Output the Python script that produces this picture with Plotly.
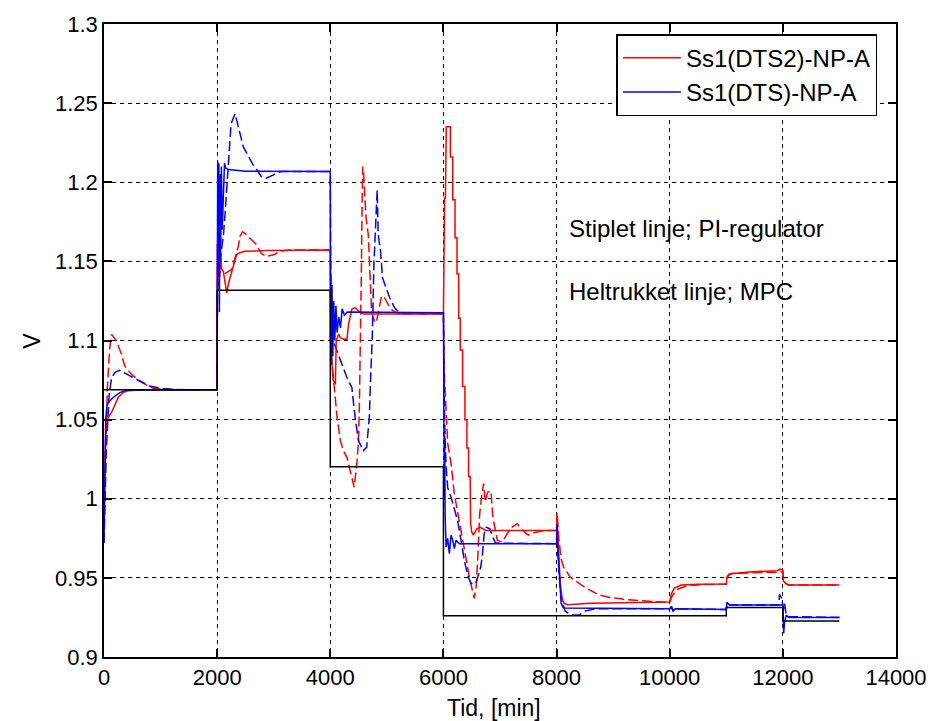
import plotly.graph_objects as go

# Reference set-point (black staircase)
setpoint_t = [0, 2000, 2000, 4000, 4000, 6000, 6000, 11000, 11000, 12000, 12000, 13000]
setpoint_v = [1.0688, 1.0688, 1.1318, 1.1318, 1.0203, 1.0203, 0.926, 0.926, 0.9313, 0.9313, 0.9227, 0.9227]

# Ss1(DTS2)-NP-A, MPC (solid red)
mpc_dts2_t = [0, 30, 50, 75, 134, 192, 250, 337, 424, 700, 2000,
              2003, 2015, 2030, 2045, 2060, 2080, 2110, 2140, 2170, 2200, 2246, 2300, 2345, 2403, 2491, 2900, 4000,
              4005, 4020, 4050, 4090, 4105, 4119, 4148, 4177, 4236, 4294, 4323, 4381, 4439, 4498, 4585, 6000,
              6020, 6035, 6050, 6123, 6123, 6164, 6164, 6205, 6205, 6240, 6240, 6269, 6269, 6298, 6298, 6339, 6339,
              6380, 6380, 6415, 6415, 6444, 6444, 6473, 6480, 6500, 6532, 6590, 6650, 6750, 8000,
              8005, 8020, 8040, 8060, 8080, 8100, 8130, 8200, 8600, 10000,
              10030, 10080, 10200, 10500, 11000, 11010, 11050, 11400, 11900, 11950, 12000, 12010, 12090, 13000]
mpc_dts2_v = [0.997, 1.04, 1.048, 1.0513, 1.0545, 1.0597, 1.064, 1.0671, 1.0682, 1.0688, 1.0688,
              1.161, 1.137, 1.16, 1.14, 1.155, 1.145, 1.1435, 1.135, 1.130, 1.136, 1.1417, 1.149, 1.1543, 1.1555, 1.1564, 1.1568, 1.1572,
              1.12, 1.09, 1.075, 1.0724, 1.10, 1.1018, 1.104, 1.1018, 1.1008, 1.1008, 1.1103, 1.1197, 1.1208, 1.1187, 1.1167, 1.1167,
              1.19, 1.19, 1.235, 1.235, 1.216, 1.216, 1.189, 1.189, 1.165, 1.165, 1.142, 1.142, 1.114, 1.114, 1.094, 1.094, 1.071,
              1.071, 1.050, 1.050, 1.032, 1.032, 1.014, 1.014, 0.985, 0.979, 0.977, 0.981, 0.982, 0.980, 0.980,
              0.991, 0.978, 0.962, 0.950, 0.942, 0.937, 0.934, 0.933, 0.934, 0.9348,
              0.940, 0.9435, 0.9455, 0.946, 0.9462, 0.950, 0.9525, 0.9537, 0.9545, 0.9555, 0.9550, 0.948, 0.9455, 0.9455]

# Ss1(DTS2)-NP-A, PI controller (dashed red)
pi_dts2_t = [0, 25, 60, 100, 134, 221, 308, 367, 483, 628, 803, 890, 1200, 2000,
             2005, 2060, 2150, 2260, 2320, 2374, 2403, 2450, 2519, 2607, 2694, 2780, 2868, 3014, 3101, 3300, 4000,
             4020, 4090, 4120, 4178, 4236, 4294, 4352, 4422, 4469, 4498, 4515, 4527, 4538, 4550, 4562, 4573, 4590,
             4632, 4672, 4701, 4730, 4760, 4790, 4818, 4870, 4905, 4960, 5022, 5100, 5200, 6000,
             6018, 6076, 6135, 6193, 6281, 6339, 6398, 6456, 6544, 6580, 6610, 6640, 6680, 6710, 6740, 6780, 6840,
             6870, 6895, 6953, 7041, 7128, 7216, 7303, 7400, 7500, 7600, 7800, 8000,
             8010, 8040, 8080, 8122, 8239, 8443, 8530, 8647, 8763, 8938, 9229, 9811, 10000,
             10050, 10150, 10300, 10600, 11000, 11020, 11100, 11500, 11950, 12000, 12020, 12100, 13000]
pi_dts2_v = [0.997, 1.03, 1.07, 1.095, 1.1039, 1.0997, 1.0913, 1.0839, 1.0787, 1.0745, 1.0707, 1.0697, 1.0690, 1.0688,
             1.145, 1.143, 1.1425, 1.145, 1.152, 1.1595, 1.1658, 1.1686, 1.1669, 1.1637, 1.1606, 1.155, 1.1532, 1.1543, 1.1564, 1.1572, 1.1572,
             1.09, 1.064, 1.0514, 1.0367, 1.030, 1.0262, 1.018, 1.0073, 1.022, 1.0367, 1.0598, 1.0829, 1.106, 1.1459, 1.1858, 1.2099, 1.205,
             1.1774, 1.1669, 1.1354, 1.118, 1.1144, 1.1112, 1.112, 1.1228, 1.128, 1.127, 1.1228, 1.119, 1.117, 1.1167,
             1.077, 1.035, 1.022, 1.003, 0.986, 0.974, 0.963, 0.951, 0.937, 0.945, 0.965, 0.990, 1.003, 1.0096, 0.998, 1.004, 1.005,
             0.990, 0.9842, 0.9737, 0.9726, 0.9779, 0.9821, 0.9842, 0.980, 0.977, 0.9785, 0.980, 0.980,
             0.990, 0.975, 0.962, 0.9569, 0.9506, 0.9454, 0.9433, 0.9412, 0.9391, 0.9376, 0.9363, 0.9348, 0.9348,
             0.939, 0.943, 0.945, 0.9458, 0.9460, 0.951, 0.9528, 0.9532, 0.9537, 0.9537, 0.947, 0.9455, 0.9455]

# Ss1(DTS)-NP-A, MPC (solid blue)
mpc_dts_t = [0, 15, 30, 50, 75, 162, 279, 400, 2000,
             2003, 2010, 2020, 2030, 2040, 2050, 2060, 2075, 2090, 2110, 2130, 2150, 2200, 2500, 4000,
             4003, 4010, 4020, 4030, 4045, 4060, 4080, 4100, 4120, 4150, 4180, 4210, 4250, 4300, 6000,
             6005, 6010, 6015, 6022, 6030, 6047, 6075, 6105, 6135, 6164, 6193, 6223, 6281, 8000,
             8005, 8020, 8040, 8060, 8080, 8120, 10000,
             10030, 10060, 10100, 11000, 11010, 11040, 11060, 12000, 12005, 12015, 12030, 12060, 12100, 13000]
mpc_dts_v = [0.972, 1.0, 1.05, 1.058, 1.0608, 1.064, 1.0671, 1.0685, 1.0688,
             1.13, 1.213, 1.14, 1.212, 1.118, 1.205, 1.15, 1.21, 1.17, 1.19, 1.212, 1.209, 1.208, 1.207, 1.2068,
             1.10, 1.14, 1.085, 1.135, 1.09, 1.125, 1.10, 1.122, 1.105, 1.115, 1.108, 1.12, 1.116, 1.118, 1.1175,
             1.05, 1.09, 1.0, 1.04, 0.99, 0.9695, 0.975, 0.9653, 0.977, 0.9737, 0.9685, 0.9737, 0.9716, 0.9716,
             0.984, 0.970, 0.955, 0.942, 0.934, 0.931, 0.9305,
             0.9315, 0.929, 0.9305, 0.9300, 0.9345, 0.9335, 0.9328, 0.9328, 0.922, 0.915, 0.922, 0.9265, 0.925, 0.925]

# Ss1(DTS)-NP-A, PI controller (dashed blue)
pi_dts_t = [0, 40, 90, 134, 200, 279, 512, 686, 803, 1035, 1300, 2000,
            2005, 2050, 2112, 2142, 2199, 2246, 2316, 2374, 2403, 2461, 2578, 2636, 2723, 2781, 2868, 2985, 3130, 4000,
            4010, 4050, 4150, 4230, 4294, 4381, 4439, 4498, 4585, 4643, 4690, 4713, 4742, 4771, 4800, 4829,
            4847, 4888, 4923, 4981, 5051, 5138, 5237, 6000,
            6010, 6020, 6047, 6076, 6135, 6193, 6252, 6310, 6369, 6427, 6485, 6573, 6632, 6661, 6690, 6720, 6760,
            6820, 6870, 6920, 8000,
            8010, 8030, 8060, 8090, 8150, 8250, 8400, 8500, 8700, 10000,
            10030, 10060, 10100, 11000, 11020, 11060, 11930, 11940, 11980, 12010, 12030, 12060, 12100, 13000]
pi_dts_v = [0.972, 1.03, 1.065, 1.0766, 1.080, 1.0812, 1.0766, 1.0734, 1.0713, 1.0697, 1.069, 1.0688,
            1.13, 1.15, 1.167, 1.181, 1.216, 1.237, 1.2433, 1.2362, 1.231, 1.2225, 1.2152, 1.211, 1.2068, 1.2036, 1.2026, 1.2047, 1.2068, 1.2068,
            1.13, 1.10, 1.09, 1.083, 1.0766, 1.0703, 1.0514, 1.0367, 1.0304, 1.0325, 1.0514, 1.0766, 1.1018, 1.148, 1.1732, 1.1952,
            1.1669, 1.1564, 1.1396, 1.1333, 1.127, 1.1207, 1.117, 1.1175,
            1.08, 1.05, 1.02, 1.007, 1.001, 0.993, 0.986, 0.974, 0.961, 0.952, 0.9464, 0.9464, 0.953, 0.957, 0.965, 0.978, 0.982,
            0.981, 0.976, 0.972, 0.9716,
            0.975, 0.960, 0.945, 0.937, 0.929, 0.9265, 0.9265, 0.929, 0.9305, 0.9305,
            0.932, 0.9295, 0.9305, 0.9300, 0.934, 0.9328, 0.9328, 0.9395, 0.937, 0.930, 0.934, 0.9265, 0.9255, 0.925]

# Axis ticks
x_ticks = [0, 2000, 4000, 6000, 8000, 10000, 12000, 14000]
x_tick_labels = ["0", "2000", "4000", "6000", "8000", "10000", "12000", "14000"]
y_ticks = [0.9, 0.95, 1.0, 1.05, 1.1, 1.15, 1.2, 1.25, 1.3]
y_tick_labels = ["0.9", "0.95", "1", "1.05", "1.1", "1.15", "1.2", "1.25", "1.3"]

RED = "#ff0000"
BLUE = "#0000ff"
FONT = "Liberation Sans, Arial, Helvetica, sans-serif"
DASH = "10px,4px"
LW = 1.5

fig = go.Figure()
fig.add_trace(go.Scatter(x=pi_dts2_t, y=pi_dts2_v, mode="lines", showlegend=False,
                         line=dict(color=RED, width=LW, dash=DASH)))
fig.add_trace(go.Scatter(x=pi_dts_t, y=pi_dts_v, mode="lines", showlegend=False,
                         line=dict(color=BLUE, width=LW, dash=DASH)))
fig.add_trace(go.Scatter(x=mpc_dts2_t, y=mpc_dts2_v, mode="lines", name="Ss1(DTS2)-NP-A",
                         line=dict(color=RED, width=LW)))
fig.add_trace(go.Scatter(x=mpc_dts_t, y=mpc_dts_v, mode="lines", name="Ss1(DTS)-NP-A",
                         line=dict(color=BLUE, width=LW)))
fig.add_trace(go.Scatter(x=setpoint_t, y=setpoint_v, mode="lines", showlegend=False,
                         line=dict(color="black", width=LW)))

axis_common = dict(
    showgrid=True, gridcolor="black", gridwidth=1.2, griddash="4px,4px",
    showline=True, mirror="ticks", linecolor="black", linewidth=1.5,
    ticks="inside", ticklen=8, tickwidth=1.5, tickcolor="black",
    zeroline=False, tickfont=dict(family=FONT, size=22, color="black"),
)

fig.update_xaxes(range=[0, 14000], tickmode="array", tickvals=x_ticks, ticktext=x_tick_labels, **axis_common)
fig.update_yaxes(range=[0.9, 1.3], tickmode="array", tickvals=y_ticks, ticktext=y_tick_labels, **axis_common)

fig.update_layout(
    width=939, height=721,
    margin=dict(l=104, r=33, t=22, b=64),
    paper_bgcolor="white", plot_bgcolor="white",
    font=dict(family=FONT, size=23, color="black"),
    legend=dict(x=0.647, y=0.984, xanchor="left", yanchor="top",
                bgcolor="white", bordercolor="black", borderwidth=1.5,
                font=dict(family=FONT, size=24, color="black"),
                itemwidth=58),
    annotations=[
        dict(text="Stiplet linje; PI-regulator", x=8187, y=1.1705, xref="x", yref="y",
             xanchor="left", yanchor="middle", showarrow=False, font=dict(size=24)),
        dict(text="Heltrukket linje; MPC", x=8187, y=1.131, xref="x", yref="y",
             xanchor="left", yanchor="middle", showarrow=False, font=dict(size=24)),
        dict(text="Tid, [min]", x=0.4925, y=-0.0567, xref="paper", yref="paper",
             xanchor="center", yanchor="top", showarrow=False, font=dict(size=23)),
        dict(text="V", x=-0.092, y=0.5, xref="paper", yref="paper", textangle=-90,
             xanchor="center", yanchor="middle", showarrow=False, font=dict(size=23)),
    ],
)

fig.write_html("out.html")
